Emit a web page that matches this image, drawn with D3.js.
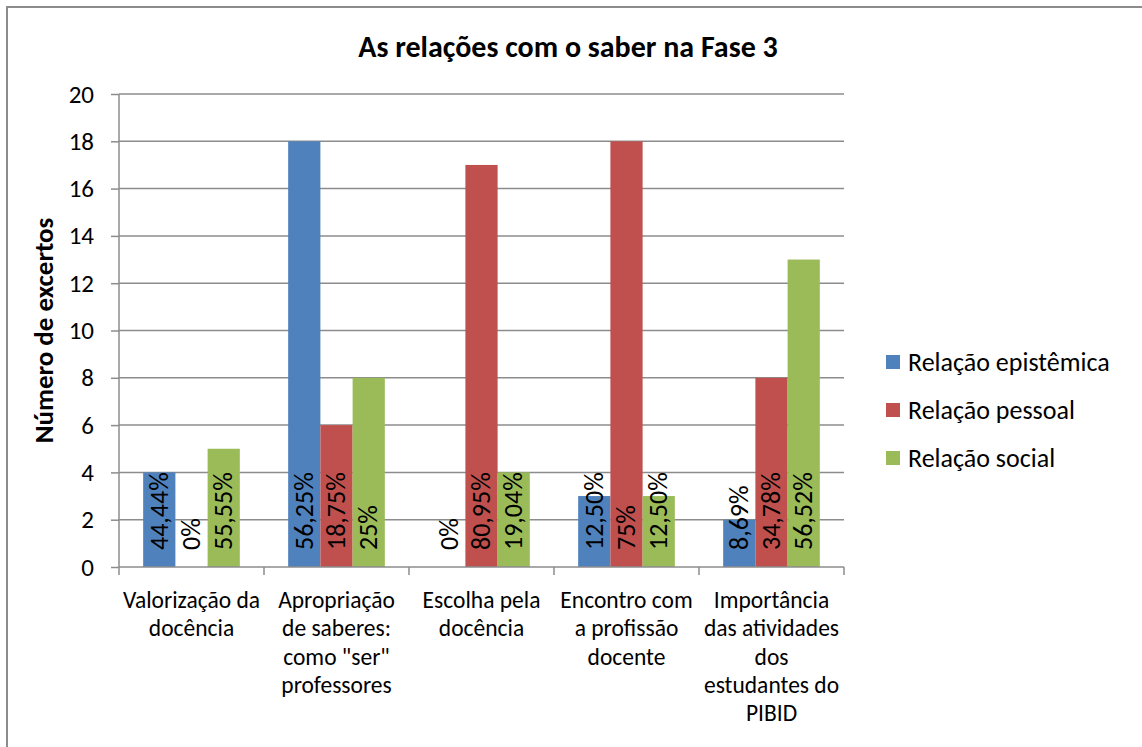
<!DOCTYPE html>
<html>
<head>
<meta charset="utf-8">
<script src="https://cdn.jsdelivr.net/npm/d3@7"></script>
<style>
  body { margin: 0; background: #fff; }
  text { font-family: Carlito, Calibri, Lato, "Open Sans", sans-serif; fill: #000; }
</style>
</head>
<body>
<svg id="chart" width="1142" height="747"></svg>
<script>
"use strict";

// categories (each entry is the label split into its lines)
const categories = [
    ["Valorização da", "docência"],
    ["Apropriação", "de saberes:", "como \"ser\"", "professores"],
    ["Escolha pela", "docência"],
    ["Encontro com", "a profissão", "docente"],
    ["Importância", "das atividades", "dos", "estudantes do", "PIBID"]
];

// series names and colours
const seriesNames = ["Relação epistêmica", "Relação pessoal", "Relação social"];
const seriesColors = ["#4f81bd", "#c0504d", "#9bbb59"];

// number of excerpts per category
const epistemica = [4, 18, 0, 3, 2];
const pessoal = [0, 6, 17, 18, 8];
const social = [5, 8, 4, 3, 13];

// percentage labels
const epistemicaPct = ["44,44%", "56,25%", "0%", "12,50%", "8,69%"];
const pessoalPct = ["0%", "18,75%", "80,95%", "75%", "34,78%"];
const socialPct = ["55,55%", "25%", "19,04%", "12,50%", "56,52%"];

const yTicks = [0, 2, 4, 6, 8, 10, 12, 14, 16, 18, 20];

const seriesValues = [epistemica, pessoal, social];
const seriesPct = [epistemicaPct, pessoalPct, socialPct];

const svg = d3.select("#chart");

// outer frame of the chart
svg.append("rect")
    .attr("x", 7)
    .attr("y", 7)
    .attr("width", 1142)
    .attr("height", 760)
    .attr("fill", "none")
    .attr("stroke", "#8c8c8c")
    .attr("stroke-width", 2);

const plot = { left: 119, right: 844, top: 94, bottom: 567 };

const x0 = d3.scaleBand()
    .domain(d3.range(categories.length))
    .range([plot.left, plot.right]);

// group of three bars with a 150% gap
const x1 = d3.scaleBand()
    .domain(d3.range(seriesNames.length))
    .range([x0.bandwidth() / 6, x0.bandwidth() * 5 / 6]);

const y = d3.scaleLinear()
    .domain([0, 20])
    .range([plot.bottom, plot.top]);

// gridlines
svg.append("g")
    .selectAll("line")
    .data(yTicks.filter(d => d > 0))
    .enter()
    .append("line")
    .attr("x1", plot.left)
    .attr("x2", plot.right)
    .attr("y1", d => y(d))
    .attr("y2", d => y(d))
    .attr("stroke", "#8c8c8c")
    .attr("stroke-width", 1.5);

// bars
const groups = svg.append("g")
    .selectAll("g")
    .data(categories.map((c, i) => i))
    .enter()
    .append("g")
    .attr("transform", i => `translate(${x0(i)},0)`);

groups.selectAll("rect")
    .data(i => seriesValues.map((s, k) => ({ k: k, v: s[i] })))
    .enter()
    .append("rect")
    .attr("x", d => x1(d.k))
    .attr("width", x1.bandwidth())
    .attr("y", d => y(d.v))
    .attr("height", d => y(0) - y(d.v))
    .attr("fill", d => seriesColors[d.k]);

// data labels, rotated, starting at the base of each bar
groups.selectAll("text")
    .data(i => seriesPct.map((s, k) => ({ k: k, t: s[i] })))
    .enter()
    .append("text")
    .attr("transform", d => `translate(${x1(d.k) + x1.bandwidth() / 2 + 8.5},${y(0) - 17}) rotate(-90)`)
    .style("font-size", "26px")
    .text(d => d.t);

// y axis
const yAxis = svg.append("g")
    .attr("transform", `translate(${plot.left},0)`)
    .call(d3.axisLeft(y).tickValues(yTicks).tickSize(8).tickPadding(17));
yAxis.selectAll("line, path").attr("stroke", "#8c8c8c").attr("stroke-width", 1.5);
yAxis.select(".domain").attr("d", `M0,${plot.top}V${plot.bottom}`);
yAxis.selectAll("text").style("font-size", "25px").attr("font-family", null);

// x axis
const xAxis = svg.append("g")
    .attr("transform", `translate(0,${plot.bottom})`);
xAxis.append("line")
    .attr("x1", plot.left)
    .attr("x2", plot.right)
    .attr("stroke", "#8c8c8c")
    .attr("stroke-width", 1.5);
xAxis.selectAll(".tick")
    .data(d3.range(categories.length + 1))
    .enter()
    .append("line")
    .attr("x1", i => i < categories.length ? x0(i) : plot.right)
    .attr("x2", i => i < categories.length ? x0(i) : plot.right)
    .attr("y1", 0)
    .attr("y2", 8)
    .attr("stroke", "#8c8c8c")
    .attr("stroke-width", 1.5);

const catLabels = xAxis.selectAll("text.cat")
    .data(categories)
    .enter()
    .append("text")
    .attr("class", "cat")
    .attr("text-anchor", "middle")
    .style("font-size", "23.5px")
    .attr("transform", (c, i) => `translate(${x0(i) + x0.bandwidth() / 2},41)`);
catLabels.selectAll("tspan")
    .data(c => c)
    .enter()
    .append("tspan")
    .attr("x", 0)
    .attr("dy", (d, j) => j === 0 ? 0 : 28.3)
    .text(d => d);

// axis title
svg.append("text")
    .attr("transform", `translate(53,${(plot.top + plot.bottom) / 2}) rotate(-90)`)
    .attr("text-anchor", "middle")
    .style("font-size", "27px")
    .style("font-weight", "bold")
    .text("Número de excertos");

// chart title
svg.append("text")
    .attr("x", 568)
    .attr("y", 57)
    .attr("text-anchor", "middle")
    .style("font-size", "30px")
    .style("font-weight", "bold")
    .text("As relações com o saber na Fase 3");

// legend
const legend = svg.append("g")
    .selectAll("g")
    .data(seriesNames)
    .enter()
    .append("g")
    .attr("transform", (d, i) => `translate(886,${362 + i * 48})`);
legend.append("rect")
    .attr("x", 0)
    .attr("y", -7)
    .attr("width", 14)
    .attr("height", 14)
    .attr("fill", (d, i) => seriesColors[i]);
legend.append("text")
    .attr("x", 22)
    .attr("y", 9)
    .style("font-size", "26px")
    .text(d => d);
</script>
</body>
</html>
